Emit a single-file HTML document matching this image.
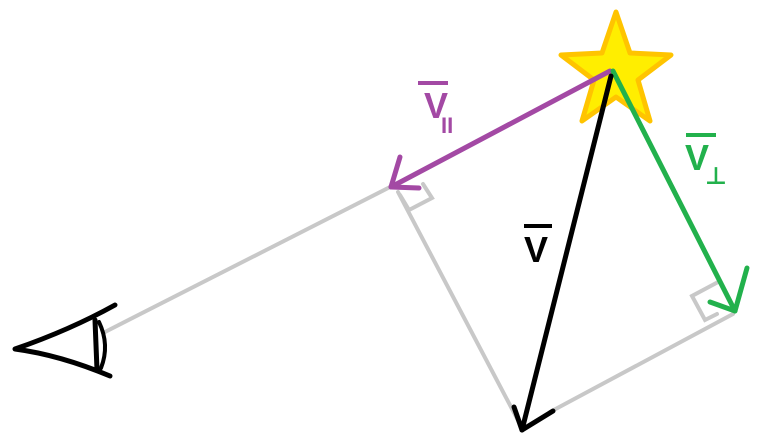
<!DOCTYPE html>
<html><head><meta charset="utf-8"><style>
html,body{margin:0;padding:0;background:#fff;width:759px;height:440px;overflow:hidden}
svg{display:block}
text{font-family:"Liberation Sans","DejaVu Sans",sans-serif}
</style></head><body>
<svg width="759" height="440" viewBox="0 0 759 440">
<g stroke="#c8c8c8" stroke-width="4" fill="none" stroke-linecap="round">
<line x1="103" y1="333" x2="392" y2="186"/>
<line x1="398" y1="192" x2="522" y2="428"/>
<line x1="550" y1="412" x2="733" y2="314"/>
<polyline points="400,195 409,210 432,198 423,184"/>
<polyline points="720,281 692,296 705,320 717,314"/>
</g>
<g>
<polygon points="616,12 630,53 671,55 638,80 650,121 616,97 582,121 594,80 561,55 602,53" fill="#ffee00" stroke="#ffc400" stroke-width="5" stroke-linejoin="round"/>
</g>
<g stroke-linecap="round" stroke-linejoin="round" fill="none">
<g stroke="#a349a4" stroke-width="5">
<line x1="610" y1="71" x2="391" y2="187"/>
<polyline points="400,157 391,187 419,188"/>
</g>
<g stroke="#22b14c" stroke-width="5">
<line x1="613" y1="71" x2="735" y2="311"/>
<polyline points="747,268 735,311 710,302"/>
</g>
<g stroke="#000" stroke-width="5">
<line x1="611" y1="76" x2="522" y2="430"/>
<polyline points="514,407 522,430 553,411"/>
</g>
<g stroke="#000" stroke-width="5">
<path d="M115,305 Q70,330 15,349 Q60,355 110,376"/>
<line x1="95" y1="320" x2="97" y2="370"/>
<path d="M99,322 Q110,345 101,368" stroke-width="4"/>
</g>
</g>
<g>
<line x1="418" y1="83" x2="448" y2="83" stroke="#a349a4" stroke-width="4"/>
<text x="424" y="118" font-size="36" font-weight="bold" fill="#a349a4">V</text>
<text x="441" y="133" font-size="22" fill="#a349a4" font-weight="bold">II</text>
</g>
<g>
<line x1="686" y1="135" x2="716" y2="135" stroke="#22b14c" stroke-width="4"/>
<text x="685" y="170" font-size="36" font-weight="bold" fill="#22b14c">V</text>
<text x="705" y="184" font-size="24" fill="#22b14c" font-weight="bold">⊥</text>
</g>
<g>
<line x1="524" y1="226" x2="552" y2="226" stroke="#000" stroke-width="4"/>
<text x="524" y="262" font-size="36" font-weight="bold" fill="#000">V</text>
</g>
</svg>
</body></html>
